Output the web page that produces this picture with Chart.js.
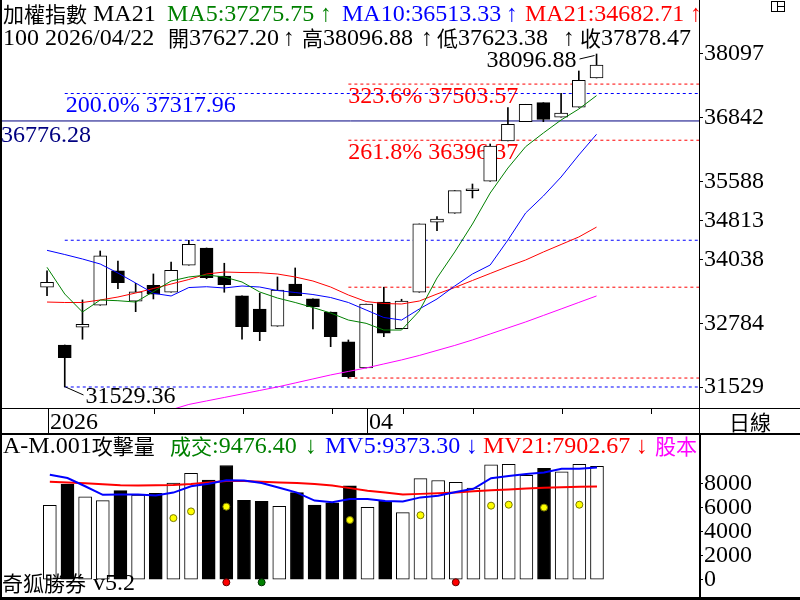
<!DOCTYPE html>
<html>
<head>
<meta charset="utf-8">
<script src="https://cdn.jsdelivr.net/npm/chart.js@4.4.1/dist/chart.umd.min.js"></script>
<style>
html, body { margin: 0; padding: 0; background: #fff; }
#wrap { position: relative; width: 800px; height: 600px; overflow: hidden; }
canvas { position: absolute; left: 0; }
#priceChart { top: 0; }
#volChart { top: 434px; }
</style>
</head>
<body>
<div id="wrap">
  <canvas id="priceChart" width="800" height="434"></canvas>
  <canvas id="volChart" width="800" height="166"></canvas>
</div>
<script>
// ---- data ----
const opens  = [33497, 32358, 32708, 33141, 33818, 33220, 33536, 33398, 33930, 34271, 33719, 33325, 33068, 32727, 33561, 33266,
                33009, 32418, 31905, 33206, 32680, 33398, 34778, 34956, 35400, 35587, 36381, 36762, 37137, 36849, 37046, 37627.20];
const highs  = [33818, 32358, 33246, 34212, 34015, 33575, 33759, 33995, 34423.66, 34271, 33970, 33325, 33378, 33699, 33877, 33266,
                33009, 32457, 33167, 33497.6, 33260, 34745, 34889, 35401, 35533, 36322, 37038, 37105, 37137, 37322, 37762, 38096.88];
const lows   = [33331, 31529.36, 32471, 33141, 33469, 33015, 33266, 33398, 33930, 33665, 33398, 32471, 32443, 32727, 33331, 32674,
                32325, 31705.97, 31905, 32522, 32680, 33398, 34612, 34956, 35257, 35587, 36381, 36762, 36762, 36849, 37046, 37623.38];
const closes = [33595, 32108, 32767, 34114, 33587, 33404, 33358, 33832, 34344, 33686, 33548, 32719, 32621, 33443, 33331, 33114,
                32522, 31733, 33167, 32589, 33226, 34745, 34843, 35401, 35440, 36283, 36711, 37105, 36809, 36934, 37578, 37878.47];

const ma5  = [33890, 33363, 33008, 33245, 33231, 33205, 33409, 33620, 33699, 33738, 33699, 33600, 33403, 33284, 33196, 33097,
              32988, 32850, 32785, 32653, 32653, 33028, 33679, 34192, 34744, 35355, 35848, 36269, 36539, 36795, 37012, 37275.75];
const ma10 = [34225, 34142, 34054, 33955, 33777, 33580, 33377, 33324, 33491, 33507, 33482, 33521, 33501, 33432, 33393, 33353,
              33294, 33196, 33048, 32900, 32850, 33067, 33265, 33521, 33758, 33935, 34428, 34961, 35296, 35671, 36105, 36513.33];
const ma21 = [33205, 33196, 33196, 33245, 33304, 33383, 33472, 33560, 33649, 33758, 33797, 33787, 33783, 33758, 33699, 33620,
              33501, 33344, 33215, 33176, 33166, 33225, 33363, 33491, 33630, 33768, 33906, 34034, 34192, 34340, 34488, 34682.71];
const maLong = [null, null, null, null, null, null, null, 31080, 31185, 31254, 31323, 31392, 31461, 31530, 31609, 31688,
                31767, 31836, 31905, 31984, 32063, 32151, 32250, 32349, 32457, 32575, 32694, 32812, 32940, 33068, 33197, 33325];

const volumes = [6216, 8000, 6933, 6613, 7440, 7067, 7227, 8080, 8880, 8320, 9547, 6640, 6560, 6133, 7280, 6240,
                 6427, 7840, 6053, 6560, 5600, 8453, 8293, 8133, 7653, 9600, 9653, 8720, 9307, 9013, 9653, 9476.40];
const mv5  = [8773, 8500, 7813, 7093, 7120, 7120, 7040, 7280, 7813, 8027, 8320, 8293, 8080, 7680, 7280, 6613,
              6480, 6747, 6747, 6587, 6533, 6880, 7013, 7333, 7600, 8480, 8667, 8827, 8960, 9280, 9280, 9373.30];
const mv21 = [8187, 8133, 8053, 7973, 7893, 7867, 7893, 7920, 8000, 8133, 8240, 8240, 8187, 8133, 8080, 8000,
              7867, 7653, 7440, 7280, 7120, 7173, 7227, 7280, 7387, 7467, 7547, 7627, 7680, 7733, 7760, 7790];

const hotIdx = [7, 8, 10, 17, 21, 25, 26, 28, 30];
const hotVal = [5147, 5707, 6107, 4987, 5387, 6187, 6267, 6027, 6267];
const redIdx = [10, 23];
const greenIdx = [12];
const markVal = -220;

const blueLevels = [31529.36, 34423.66, 37317.96];          // drawn from index 1
const redLevels  = [31705.97, 33497.6, 36396.37, 37503.57]; // drawn from index 17
const baseLevel  = 36776.28;

const priceTicks = [38097, 36842, 35588, 34813, 34038, 32784, 31529];
const volTicks = [0, 2000, 4000, 6000, 8000];
const dateTickIdx  = [0, 6, 11, 16, 18, 20, 24, 29, 34];
const dateTickText = ['2026', '', '', '', '04', '', '', '', ''];

// ---- helpers ----
const X_MIN = -2.54, X_MAX = 36.78;
const FONT_LAT = '"Liberation Serif", "DejaVu Serif", serif';
const FONT_CJK = '"Noto Sans CJK TC", "Noto Sans CJK SC", sans-serif';
const idx = closes.map((_, i) => i);
const isDown = closes.map((c, i) => c < opens[i]);

// text runs [text, colour, x]; CJK pieces in a CJK face, the rest in a serif face
function drawRuns(ctx, y, runs) {
  ctx.textBaseline = 'alphabetic';
  ctx.textAlign = 'left';
  for (const [text, color, x0] of runs) {
    let x = x0;
    ctx.fillStyle = color;
    const parts = text.match(/[\u2E80-\u9FFF\uFF00-\uFFEF]+|[^\u2E80-\u9FFF\uFF00-\uFFEF]+/g) || [];
    for (const p of parts) {
      const cjk = /[\u2E80-\u9FFF\uFF00-\uFFEF]/.test(p);
      ctx.font = cjk ? '21px ' + FONT_CJK : '24px ' + FONT_LAT;
      ctx.fillText(p, x, cjk ? y + 1 : y);
      x += ctx.measureText(p).width;
    }
  }
}

function hLine(v, from, color, dash) {
  return {
    type: 'line', data: [{x: from, y: v}, {x: X_MAX, y: v}],
    borderColor: color, borderWidth: 1, borderDash: dash, pointRadius: 0, order: 6
  };
}

function rightAxis(min, max, ticks) {
  return {
    type: 'linear', position: 'right', min: min, max: max,
    afterBuildTicks: (s) => { s.ticks = ticks.map(v => ({value: v})); },
    afterFit: (s) => { s.width = 101; s.paddingTop = 0; s.paddingBottom = 0; },
    grid: { drawOnChartArea: false, drawTicks: true, tickLength: 4, color: '#000' },
    border: { display: false },
    ticks: { autoSkip: false, padding: 1, color: '#000', callback: (v) => String(v),
             font: { family: 'Liberation Serif', size: 24 } }
  };
}

// ---- price panel ----
const pricePlugin = {
  id: 'pricePlugin',
  beforeDatasetsDraw(chart) {
    const ctx = chart.ctx, xs = chart.scales.x, ys = chart.scales.y;
    ctx.save();
    ctx.font = '24px ' + FONT_LAT;
    ctx.textBaseline = 'alphabetic';
    ctx.textAlign = 'left';
    ctx.fillStyle = '#0000ff';
    ctx.fillText('200.0% ' + blueLevels[2].toFixed(2), xs.getPixelForValue(1) + 1, ys.getPixelForValue(blueLevels[2]) + 19);
    ctx.fillStyle = '#ff0000';
    ctx.fillText('323.6% ' + redLevels[3].toFixed(2), xs.getPixelForValue(17), ys.getPixelForValue(redLevels[3]) + 19);
    ctx.fillText('261.8% ' + redLevels[2].toFixed(2), xs.getPixelForValue(17), ys.getPixelForValue(redLevels[2]) + 19);
    ctx.fillStyle = '#000080';
    ctx.fillText(baseLevel.toFixed(2), 1, ys.getPixelForValue(baseLevel) + 21);
    ctx.restore();
  },
  afterDraw(chart) {
    const ctx = chart.ctx, a = chart.chartArea, xs = chart.scales.x, ys = chart.scales.y;
    ctx.save();
    // low / high pointers
    ctx.strokeStyle = '#000';
    ctx.lineWidth = 1;
    const lx = Math.round(xs.getPixelForValue(1)) + 0.5, ly = ys.getPixelForValue(lows[1]);
    ctx.beginPath(); ctx.moveTo(lx, ly); ctx.lineTo(lx + 18, ly + 8); ctx.stroke();
    ctx.fillStyle = '#000';
    ctx.font = '24px ' + FONT_LAT;
    ctx.textAlign = 'left';
    ctx.fillText(lows[1].toFixed(2), lx + 20, ly + 16);
    const hx = xs.getPixelForValue(31), hy = ys.getPixelForValue(highs[31]);
    ctx.beginPath(); ctx.moveTo(hx - 17, hy + 5); ctx.lineTo(hx - 2, hy + 1.5); ctx.stroke();
    ctx.textAlign = 'right';
    ctx.fillText(highs[31].toFixed(2), hx - 20, hy + 13);

    // frame
    ctx.fillRect(0, 0, 2, 434);
    ctx.fillRect(a.right, 0, 1, 434);
    ctx.fillRect(0, a.bottom, 800, 1);
    ctx.fillRect(0, 433, 800, 1);

    // date row
    dateTickIdx.forEach((d, k) => {
      const px = Math.round(xs.getPixelForValue(d)) + 1;
      const full = dateTickText[k] !== '';
      if (px > a.right) return;
      ctx.fillRect(px, a.bottom, 1, full ? 25 : 6);
      if (full) {
        ctx.font = '24px ' + FONT_LAT;
        ctx.textAlign = 'left';
        ctx.fillText(dateTickText[k], px + 2, 429);
      }
    });
    drawRuns(ctx, 429, [['日線', '#000', 729]]);

    // window icon
    ctx.strokeStyle = '#000';
    ctx.strokeRect(771.5, 1.5, 13, 10);
    ctx.beginPath();
    ctx.moveTo(777.5, 1.5); ctx.lineTo(777.5, 11.5);
    ctx.moveTo(777.5, 6.5); ctx.lineTo(784.5, 6.5);
    ctx.stroke();

    // header rows
    ctx.beginPath(); ctx.rect(2, 0, a.right - 2, 60); ctx.clip();
    drawRuns(ctx, 21, [
      ['加權指數', '#000', 3], ['MA21', '#000', 93],
      ['MA5:37275.75', '#008000', 167], ['↑', '#008000', 320],
      ['MA10:36513.33', '#0000ff', 342], ['↑', '#0000ff', 506],
      ['MA21:34682.71', '#ff0000', 525], ['↑', '#ff0000', 690]
    ]);
    drawRuns(ctx, 45, [
      ['100', '#000', 3], ['2026/04/22', '#000', 45],
      ['開37627.20', '#000', 168], ['↑', '#000', 283],
      ['高38096.88', '#000', 302], ['↑', '#000', 421],
      ['低37623.38', '#000', 437], ['↑', '#000', 563],
      ['收37878.47', '#000', 580]
    ]);
    ctx.restore();
  }
};

const priceDatasets = [
  { type: 'bar', data: idx.map(i => ({x: i, y: [lows[i], highs[i]]})), backgroundColor: '#000',
    barThickness: 1, grouped: false, order: 5 },
  { type: 'bar', data: idx.map(i => ({x: i, y: [opens[i], closes[i]]})),
    backgroundColor: isDown.map(d => d ? '#000' : '#fff'), borderColor: '#000', borderWidth: 1,
    borderSkipped: false, barThickness: 13, grouped: false, order: 4 },
  { type: 'line', data: idx.map(i => ({x: i, y: maLong[i]})), borderColor: '#ff00ff', borderWidth: 1, pointRadius: 0, order: 3 },
  { type: 'line', data: idx.map(i => ({x: i, y: ma21[i]})), borderColor: '#ff0000', borderWidth: 1, pointRadius: 0, order: 2 },
  { type: 'line', data: idx.map(i => ({x: i, y: ma10[i]})), borderColor: '#0000ff', borderWidth: 1, pointRadius: 0, order: 1 },
  { type: 'line', data: idx.map(i => ({x: i, y: ma5[i]})), borderColor: '#008000', borderWidth: 1, pointRadius: 0, order: 0 },
  hLine(baseLevel, X_MIN, '#000080', []),
];
blueLevels.forEach(v => priceDatasets.push(hLine(v, 1, '#0000ff', [3, 3])));
redLevels.forEach(v => priceDatasets.push(hLine(v, 17, '#ff0000', [3, 3])));

new Chart(document.getElementById('priceChart').getContext('2d'), {
  type: 'bar',
  data: { datasets: priceDatasets },
  options: {
    responsive: false, animation: false, events: [],
    layout: { padding: { left: 2, right: 0, top: 0, bottom: 26 } },
    plugins: { legend: { display: false }, tooltip: { enabled: false } },
    scales: {
      x: { type: 'linear', min: X_MIN, max: X_MAX, offset: false, display: false, grid: { offset: false } },
      y: rightAxis(31115, 39162, priceTicks)
    }
  },
  plugins: [pricePlugin]
});

// ---- volume panel ----
const volPlugin = {
  id: 'volPlugin',
  afterDraw(chart) {
    const ctx = chart.ctx, a = chart.chartArea;
    ctx.save();
    ctx.fillStyle = '#000';
    ctx.fillRect(0, 0, 2, 166);
    ctx.fillRect(0, 0, 800, 1);
    ctx.fillRect(a.right, 0, 2, 166);
    ctx.fillRect(0, 163, 800, 3);
    drawRuns(ctx, 19, [
      ['A-M.001攻擊量', '#000', 3],
      ['成交:9476.40', '#008000', 170], ['↓', '#008000', 305],
      ['MV5:9373.30', '#0000ff', 325], ['↓', '#0000ff', 466],
      ['MV21:7902.67', '#ff0000', 483], ['↓', '#ff0000', 636],
      ['股本', '#ff00ff', 655]
    ]);
    drawRuns(ctx, 156, [['奇狐勝券', '#000', 2], ['v5.2', '#000', 93]]);
    ctx.restore();
  }
};

new Chart(document.getElementById('volChart').getContext('2d'), {
  type: 'bar',
  data: {
    datasets: [
      { type: 'bar', data: idx.map(i => ({x: i, y: volumes[i]})),
        backgroundColor: isDown.map(d => d ? '#000' : '#fff'), borderColor: '#000', borderWidth: 1,
        borderSkipped: false, barThickness: 13, grouped: false, order: 5 },
      { type: 'line', data: idx.map(i => ({x: i, y: mv21[i]})), borderColor: '#ff0000', borderWidth: 2, pointRadius: 0, order: 3 },
      { type: 'line', data: idx.map(i => ({x: i, y: mv5[i]})), borderColor: '#0000ff', borderWidth: 2, pointRadius: 0, order: 2 },
      { type: 'line', showLine: false, data: hotIdx.map((x, k) => ({x: x, y: hotVal[k]})),
        pointRadius: 3.5, pointBackgroundColor: '#ffff00', pointBorderColor: '#7a7a00', pointBorderWidth: 1, order: 1 },
      { type: 'line', showLine: false, data: redIdx.map(x => ({x: x, y: markVal})),
        pointRadius: 3.5, pointBackgroundColor: '#ff0000', pointBorderColor: '#600000', pointBorderWidth: 1, order: 0 },
      { type: 'line', showLine: false, data: greenIdx.map(x => ({x: x, y: markVal})),
        pointRadius: 3.5, pointBackgroundColor: '#008000', pointBorderColor: '#003000', pointBorderWidth: 1, order: 0 }
    ]
  },
  options: {
    responsive: false, animation: false, events: [],
    layout: { padding: { left: 2, right: 0, top: 0, bottom: 3 } },
    plugins: { legend: { display: false }, tooltip: { enabled: false } },
    scales: {
      x: { type: 'linear', min: X_MIN, max: X_MAX, offset: false, display: false, grid: { offset: false } },
      y: rightAxis(-1280, 11760, volTicks)
    }
  },
  plugins: [volPlugin]
});
</script>
</body>
</html>
